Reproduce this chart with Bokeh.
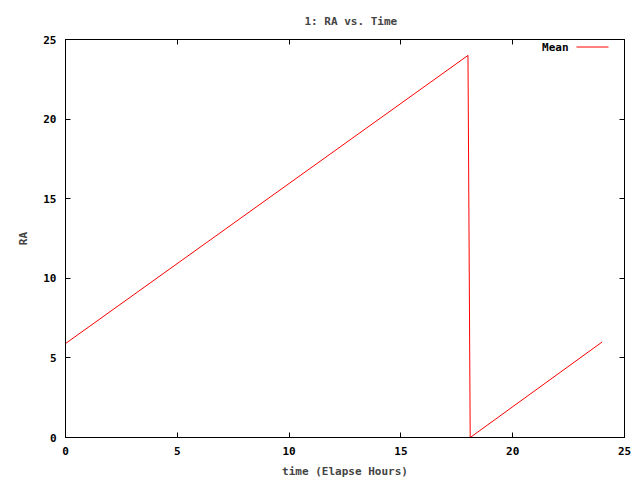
from bokeh.plotting import figure
from bokeh.models import LinearAxis, FixedTicker, Label, BoxAnnotation
from bokeh.embed import file_html
from bokeh.resources import INLINE

# Data
time_hours = [0.0, 18.0, 18.1, 24.0]
ra_mean = [5.9, 24.0, 0.0, 6.0]
x_ticks = [0, 5, 10, 15, 20, 25]
y_ticks = [0, 5, 10, 15, 20, 25]
series_name = "Mean"
series_color = "#ff0000"

FONT = "DejaVu Sans Mono"
FS = "11px"

p = figure(width=640, height=480, x_range=(0, 25), y_range=(0, 25),
           output_backend="svg", toolbar_location=None,
           min_border_left=65, min_border_right=16, min_border_top=39,
           min_border_bottom=42, background_fill_color="white",
           border_fill_color="white")

p.title.text = "1: RA vs. Time"
p.title.align = "left"
p.title.text_font = FONT
p.title.text_font_size = FS
p.title.text_font_style = "bold"
p.title.offset = 239
p.title.standoff = 24

p.grid.visible = False
p.outline_line_color = "black"
p.outline_line_width = 1

r = p.line(time_hours, ra_mean, line_color=series_color, line_width=1)

def style_axis(ax, ticks, labels=True):
    ax.ticker = FixedTicker(ticks=ticks)
    ax.major_tick_in = 5
    ax.major_tick_out = 0
    ax.minor_tick_line_color = None
    ax.axis_line_color = "black"
    ax.major_tick_line_color = "black"
    ax.major_label_text_font = FONT
    ax.major_label_text_font_size = FS
    ax.major_label_text_font_style = "bold"
    ax.major_label_text_color = "black" if labels else None
    ax.axis_label_text_font = FONT
    ax.axis_label_text_font_size = FS
    ax.axis_label_text_font_style = "bold"

xa = p.xaxis[0]
style_axis(xa, x_ticks)
xa.axis_label = "time (Elapse Hours)"
xa.major_label_standoff = 9
xa.axis_label_standoff = 7

ya = p.yaxis[0]
style_axis(ya, y_ticks)
ya.axis_label = "RA"
ya.major_label_standoff = 9
ya.axis_label_standoff = 10

top = LinearAxis()
style_axis(top, x_ticks, labels=False)
p.add_layout(top, "above")

right = LinearAxis()
style_axis(right, y_ticks, labels=False)
p.add_layout(right, "right")

# Key (gnuplot style: label then sample line)
legend_text = Label(x=503, y=390, x_units="screen", y_units="screen",
                    text=series_name, text_align="right", text_baseline="middle",
                    text_font=FONT, text_font_size=FS, text_font_style="bold",
                    text_color="black")
p.add_layout(legend_text)
legend_line = BoxAnnotation(left=511, right=543, bottom=390, top=391,
                            left_units="screen", right_units="screen",
                            bottom_units="screen", top_units="screen",
                            fill_color=series_color, fill_alpha=1.0,
                            line_color=None)
p.add_layout(legend_line)

open("out.html", "w").write(file_html(p, INLINE))
